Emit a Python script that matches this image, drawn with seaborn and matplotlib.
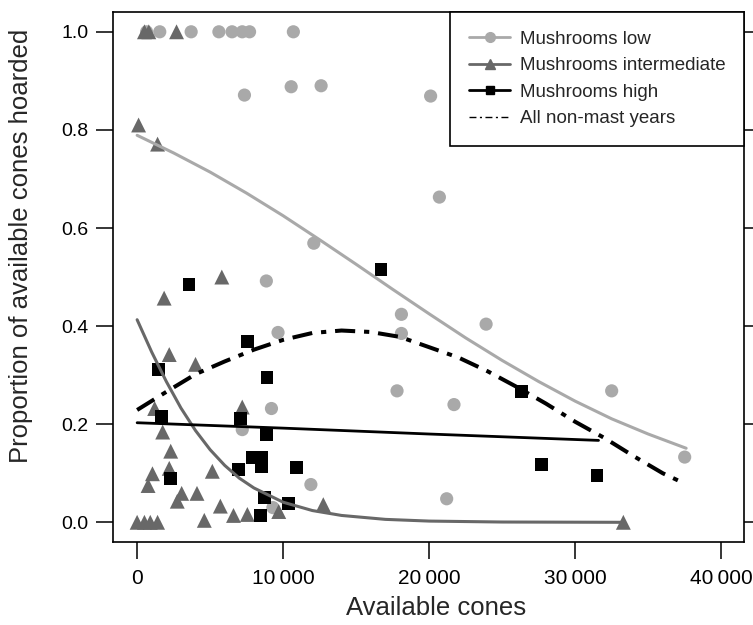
import seaborn as sns
import matplotlib.pyplot as plt
import matplotlib.ticker as mticker
from matplotlib.lines import Line2D
import pandas as pd

sns.set_theme(style="ticks")
plt.rcParams["font.family"] = ["Liberation Sans", "DejaVu Sans"]

# Punkte: Mushrooms low (hellgraue Kreise)
low_x = [650, 1550, 3700, 5600, 6500, 7200, 7700, 10700, 7350, 10550, 12600,
         20100, 20700, 12100, 8850, 18100, 18100, 9650, 23900, 17800, 21700,
         32500, 37500, 21200, 9200, 7200, 11900, 9300]
low_y = [1.0, 1.0, 1.0, 1.0, 1.0, 1.0, 1.0, 1.0, 0.871, 0.888, 0.89,
         0.869, 0.663, 0.569, 0.492, 0.424, 0.385, 0.387, 0.404, 0.268, 0.240,
         0.268, 0.133, 0.048, 0.232, 0.189, 0.077, 0.03]

# Mushrooms intermediate (dunkelgraue Dreiecke)
mid_x = [500, 800, 2700, 100, 1400, 1850, 5800, 2200, 4000, 1200, 7200, 1750,
         2300, 2200, 1050, 750, 5150, 3050, 4100, 2750, 5700, 6600, 7550, 9700,
         12750, 4600, 0, 500, 900, 1400, 33300]
mid_y = [1.0, 1.0, 1.0, 0.81, 0.771, 0.457, 0.50, 0.342, 0.322, 0.232, 0.235,
         0.184, 0.145, 0.11, 0.099, 0.075, 0.104, 0.059, 0.059, 0.043, 0.033,
         0.014, 0.016, 0.022, 0.036, 0.004, 0.0, 0.0, 0.0, 0.0, 0.0]

# Mushrooms high (schwarze Quadrate)
high_x = [3550, 7550, 1450, 8900, 1650, 7100, 8850, 7900, 8500, 8500, 6950,
          10900, 2300, 8700, 10350, 8450, 16700, 26300, 27700, 31500]
high_y = [0.485, 0.368, 0.312, 0.295, 0.216, 0.212, 0.179, 0.132, 0.132, 0.114,
          0.108, 0.111, 0.089, 0.05, 0.039, 0.014, 0.516, 0.266, 0.118, 0.096]

# Modellkurven
low_fit_x = [0, 2500, 5000, 7500, 10000, 12500, 15000, 17500, 20000, 22500,
             25000, 27500, 30000, 32500, 35000, 37600]
low_fit_y = [0.789, 0.753, 0.714, 0.671, 0.625, 0.576, 0.526, 0.475, 0.425,
             0.376, 0.330, 0.287, 0.247, 0.211, 0.180, 0.151]

mid_fit_x = [0, 1000, 2000, 3000, 4000, 5000, 6000, 7000, 8000, 10000, 12000,
             14000, 17000, 20000, 25000, 33300]
mid_fit_y = [0.413, 0.347, 0.287, 0.233, 0.187, 0.148, 0.116, 0.090, 0.070,
             0.041, 0.024, 0.014, 0.006, 0.0025, 0.0006, 0.0]

high_fit_x = [0, 10000, 20000, 31600]
high_fit_y = [0.203, 0.192, 0.180, 0.167]

all_fit_x = [0, 2000, 4000, 6000, 8000, 10000, 12000, 14000, 16000, 18000,
             20000, 22000, 24000, 26000, 28000, 30000, 32000, 34000, 36000, 37500]
all_fit_y = [0.229, 0.266, 0.302, 0.328, 0.352, 0.372, 0.386, 0.391, 0.388,
             0.378, 0.357, 0.336, 0.308, 0.276, 0.242, 0.205, 0.172, 0.135,
             0.100, 0.079]

x_ticks = [0, 10000, 20000, 30000, 40000]
y_ticks = [0.0, 0.2, 0.4, 0.6, 0.8, 1.0]

LIGHT = "#a9a9a9"
DARK = "#686868"

fig = plt.figure(figsize=(7.53, 6.25), dpi=100)
ax = fig.add_axes([0.1505, 0.1333, 0.8375, 0.848])

sns.scatterplot(x=low_x, y=low_y, marker="o", s=90, color=LIGHT,
                edgecolor="none", ax=ax, zorder=3)
sns.scatterplot(x=mid_x, y=mid_y, marker="^", s=115, color=DARK,
                edgecolor="none", ax=ax, zorder=4)
sns.scatterplot(x=high_x, y=high_y, marker="s", s=85, color="black",
                edgecolor="none", ax=ax, zorder=5)

sns.lineplot(x=low_fit_x, y=low_fit_y, color=LIGHT, lw=2.2, ax=ax, zorder=6)
sns.lineplot(x=mid_fit_x, y=mid_fit_y, color=DARK, lw=2.2, ax=ax, zorder=6)
sns.lineplot(x=high_fit_x, y=high_fit_y, color="black", lw=2.0, ax=ax, zorder=6)
sns.lineplot(x=all_fit_x, y=all_fit_y, color="black", lw=2.9, ax=ax, zorder=7,
             dashes=False)
ax.lines[-1].set_dashes([5, 2.2, 1.3, 2.2])

ax.set_xlim(-1630, 41560)
ax.set_ylim(-0.0395, 1.041)
ax.set_xticks(x_ticks)
ax.set_yticks(y_ticks)
ax.xaxis.set_major_formatter(mticker.FuncFormatter(
    lambda v, p: f"{int(v):,}".replace(",", "\u2009")))
ax.yaxis.set_major_formatter(mticker.FormatStrFormatter("%.1f"))

for sp in ax.spines.values():
    sp.set_visible(True)
    sp.set_color("black")
    sp.set_linewidth(1.2)

ax.tick_params(axis="both", direction="out", length=12, width=1.1,
               colors="black", labelsize=14, pad=6)
ax.tick_params(axis="x", pad=8, labelsize=15)
ax.tick_params(axis="y", right=True, labelright=False)

ax.set_xlabel("Available cones", fontsize=18.5)
ax.set_ylabel("Proportion of available cones hoarded", fontsize=18.5)
ax.xaxis.set_label_coords(0.512, -0.102)
ax.yaxis.set_label_coords(-0.128, 0.558)

handles = [
    Line2D([], [], color=LIGHT, lw=2, marker="o", ms=7),
    Line2D([], [], color=DARK, lw=2, marker="^", ms=7),
    Line2D([], [], color="black", lw=2, marker="s", ms=6),
    Line2D([], [], color="black", lw=1, dashes=[5, 2.5, 1.5, 2.5]),
]
labels = ["Mushrooms low", "Mushrooms intermediate", "Mushrooms high",
          "All non-mast years"]
leg = ax.legend(handles, labels, loc="upper right", borderaxespad=0,
                fontsize=13.5, frameon=True, fancybox=False, framealpha=1,
                handlelength=2.2, labelspacing=0.5, borderpad=1.0,
                handletextpad=0.5)
leg.get_frame().set_edgecolor("black")
leg.get_frame().set_linewidth(1.2)

plt.savefig("out.png", dpi=100)
